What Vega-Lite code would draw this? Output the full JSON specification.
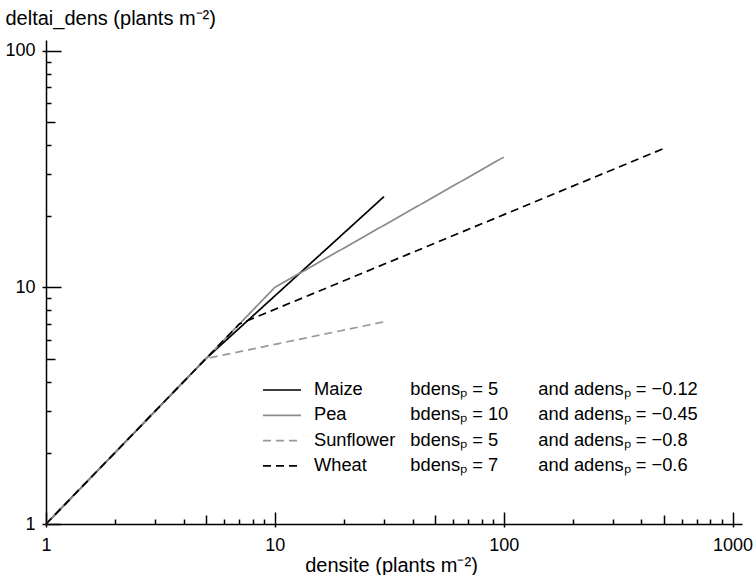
{
  "$schema": "https://vega.github.io/schema/vega-lite/v6.json",
  "width": 696,
  "height": 484,
  "autosize": {"type": "none"},
  "padding": {"left": 46, "top": 40, "right": 12, "bottom": 51},
  "background": "white",
  "config": {
    "view": {"stroke": null},
    "font": "Liberation Sans",
    "axis": {"grid": false, "tickColor": "black", "domainColor": "black", "tickWidth": 1.5, "domainWidth": 1.5, "labelColor": "black", "titleColor": "black", "labelFont": "Liberation Sans", "titleFont": "Liberation Sans", "labelFontSize": 18, "titleFontSize": 20, "titleFontWeight": "normal"},
    "legend": {"labelFont": "Liberation Sans", "labelFontSize": 18.3, "labelColor": "black", "padding": 0}
  },
  "data": {
    "values": [
      {"crop": "Maize", "densite": 1, "dens": 1, "bdens": "bdensₚ = 5", "adens": "and adensₚ = −0.12"},
      {"crop": "Maize", "densite": 5, "dens": 5, "bdens": "bdensₚ = 5", "adens": "and adensₚ = −0.12"},
      {"crop": "Maize", "densite": 30, "dens": 24.2, "bdens": "bdensₚ = 5", "adens": "and adensₚ = −0.12"},
      {"crop": "Pea", "densite": 1, "dens": 1, "bdens": "bdensₚ = 10", "adens": "and adensₚ = −0.45"},
      {"crop": "Pea", "densite": 10, "dens": 10, "bdens": "bdensₚ = 10", "adens": "and adensₚ = −0.45"},
      {"crop": "Pea", "densite": 100, "dens": 35.5, "bdens": "bdensₚ = 10", "adens": "and adensₚ = −0.45"},
      {"crop": "Sunflower", "densite": 1, "dens": 1, "bdens": "bdensₚ = 5 ", "adens": "and adensₚ = −0.8"},
      {"crop": "Sunflower", "densite": 5, "dens": 5, "bdens": "bdensₚ = 5 ", "adens": "and adensₚ = −0.8"},
      {"crop": "Sunflower", "densite": 30, "dens": 7.15, "bdens": "bdensₚ = 5 ", "adens": "and adensₚ = −0.8"},
      {"crop": "Wheat", "densite": 1, "dens": 1, "bdens": "bdensₚ = 7", "adens": "and adensₚ = −0.6"},
      {"crop": "Wheat", "densite": 7, "dens": 7, "bdens": "bdensₚ = 7", "adens": "and adensₚ = −0.6"},
      {"crop": "Wheat", "densite": 500, "dens": 38.6, "bdens": "bdensₚ = 7", "adens": "and adensₚ = −0.6"}
    ]
  },
  "resolve": {"axis": {"x": "independent", "y": "independent"}},
  "layer": [
    {
      "mark": {"type": "point", "opacity": 0},
      "encoding": {
        "x": {"field": "densite", "type": "quantitative", "scale": {"type": "log", "domain": [1, 1100], "nice": false},
          "axis": {"orient": "bottom", "values": [2,3,4,6,7,8,9,20,30,40,60,70,80,90,200,300,400,600,700,800,900], "tickSize": -5, "labels": false, "domain": true, "title": "densite (plants m⁻²)", "titleX": 345, "titleY": 47, "titleBaseline": "alphabetic"}},
        "y": {"field": "dens", "type": "quantitative", "scale": {"type": "log", "domain": [1, 111], "nice": false},
          "axis": {"orient": "left", "values": [2,3,4,6,7,8,9,20,30,40,60,70,80,90], "tickSize": -5, "labels": false, "domain": true, "title": "deltai_dens (plants m⁻²)", "titleAngle": 0, "titleAlign": "left", "titleBaseline": "alphabetic", "titleX": -41, "titleY": -16}}
      }
    },
    {
      "mark": {"type": "point", "opacity": 0},
      "encoding": {
        "x": {"field": "densite", "type": "quantitative",
          "axis": {"orient": "bottom", "values": [5, 50, 500], "tickSize": -9, "labels": false, "domain": false, "title": null}},
        "y": {"field": "dens", "type": "quantitative",
          "axis": {"orient": "left", "values": [5, 50], "tickSize": -9, "labels": false, "domain": false, "title": null}}
      }
    },
    {
      "mark": {"type": "point", "opacity": 0},
      "encoding": {
        "x": {"field": "densite", "type": "quantitative",
          "axis": {"orient": "bottom", "values": [1, 10, 100, 1000], "format": "d", "ticks": false, "labelPadding": 12, "labelFlush": false, "labelOverlap": false, "domain": false, "title": null}},
        "y": {"field": "dens", "type": "quantitative",
          "axis": {"orient": "left", "values": [1, 10, 100], "format": "d", "ticks": false, "labelPadding": 11, "labelFlush": false, "labelOverlap": false, "domain": false, "title": null}}
      }
    },
    {
      "mark": {"type": "line"},
      "encoding": {
        "x": {"field": "densite", "type": "quantitative",
          "axis": {"orient": "bottom", "values": [1, 10, 100, 1000], "offset": 3, "tickSize": -15, "labels": false, "domain": false, "title": null}},
        "y": {"field": "dens", "type": "quantitative",
          "axis": {"orient": "left", "values": [1, 10, 100], "offset": 4, "tickSize": -19, "labels": false, "domain": false, "title": null}},
        "color": {"field": "crop", "type": "nominal",
          "scale": {"domain": ["Maize", "Pea", "Sunflower", "Wheat"], "range": ["#000000", "#8a8a8a", "#9a9a9a", "#000000"]},
          "legend": {"orient": "none", "legendX": 216, "legendY": 340, "title": null, "symbolType": "stroke", "symbolSize": 1444, "symbolStrokeWidth": 1.7, "labelOffset": 12, "clipHeight": 20, "rowPadding": 5.3}},
        "strokeDash": {"field": "crop", "type": "nominal",
          "scale": {"domain": ["Maize", "Pea", "Sunflower", "Wheat"], "range": [[1, 0], [1, 0], [8, 5], [8, 5]]}},
        "opacity": {"field": "bdens", "type": "ordinal",
          "scale": {"domain": ["bdensₚ = 5", "bdensₚ = 10", "bdensₚ = 5 ", "bdensₚ = 7"], "range": [1, 1, 1, 1]},
          "legend": {"orient": "none", "legendX": 346, "legendY": 340, "title": null, "symbolSize": 0, "symbolOpacity": 0, "symbolStrokeWidth": 0, "labelOffset": 0, "clipHeight": 20, "rowPadding": 5.3}},
        "strokeWidth": {"field": "adens", "type": "ordinal",
          "scale": {"domain": ["and adensₚ = −0.12", "and adensₚ = −0.45", "and adensₚ = −0.8", "and adensₚ = −0.6"], "range": [1.7, 1.7, 1.7, 1.7]},
          "legend": {"orient": "none", "legendX": 474, "legendY": 340, "title": null, "symbolSize": 0, "symbolOpacity": 0, "symbolStrokeWidth": 0, "labelOffset": 0, "clipHeight": 20, "rowPadding": 5.3}}
      }
    }
  ]
}
